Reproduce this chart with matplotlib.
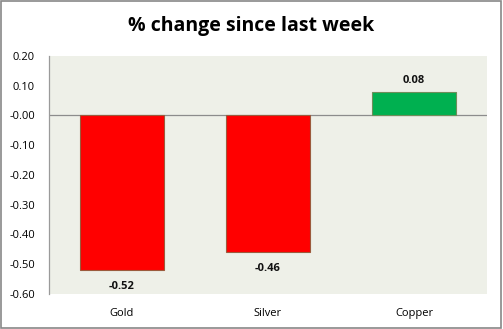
import numpy as np
import matplotlib.pyplot as plt
from matplotlib.patches import Rectangle

metals = ['Gold', 'Silver', 'Copper']
pct_change = [-0.52, -0.46, 0.08]
bar_colors = ['#FF0000', '#FF0000', '#00B050']
edge_colors = ['#9C5A3C', '#9C5A3C', '#6E8E5A']
yticks = np.arange(-0.6, 0.21, 0.1)

plt.rcParams['font.family'] = ['Open Sans', 'DejaVu Sans']

fig = plt.figure(figsize=(5.03, 3.29), dpi=100)
fig.patch.set_facecolor('white')
ax = fig.add_axes([49 / 503, 1 - 294 / 329, 438 / 503, 238 / 329])
ax.set_facecolor('#EEF0E8')

x = np.arange(len(metals))
ax.bar(x, pct_change, width=0.57, color=bar_colors, edgecolor=edge_colors, linewidth=0.8, zorder=3)

for xi, v in zip(x, pct_change):
    off = 4 if v >= 0 else -7.5
    ax.annotate(f'{v:.2f}', (xi, v), xytext=(0, off), textcoords='offset points',
                ha='center', va='bottom' if v >= 0 else 'top',
                fontsize=8, fontweight='bold', color='#111111')

ax.axhline(0, color='#8C8C8C', linewidth=0.9, zorder=2)
ax.set_xlim(-0.5, 2.5)
ax.set_ylim(-0.6, 0.2)
ax.set_yticks(yticks)
ax.set_yticklabels([f'{t:.2f}' for t in yticks], fontsize=8)
ax.set_xticks(x)
ax.set_xticklabels(metals, fontsize=8)
ax.tick_params(axis='x', length=0, pad=10)
ax.tick_params(axis='y', length=0, pad=10)
for side in ['top', 'right', 'bottom']:
    ax.spines[side].set_visible(False)
ax.spines['left'].set_color('#9A9A9A')
ax.spines['left'].set_linewidth(0.9)

fig.text(0.5, 1 - 26 / 329, '% change since last week', ha='center', va='center',
         fontsize=14, fontweight='bold')

# outer chart border
fig.add_artist(Rectangle((0.002, 0.003), 0.995, 0.994, transform=fig.transFigure,
                         fill=False, edgecolor='#888888', linewidth=1.2))

fig.savefig('out.png', dpi=100)
